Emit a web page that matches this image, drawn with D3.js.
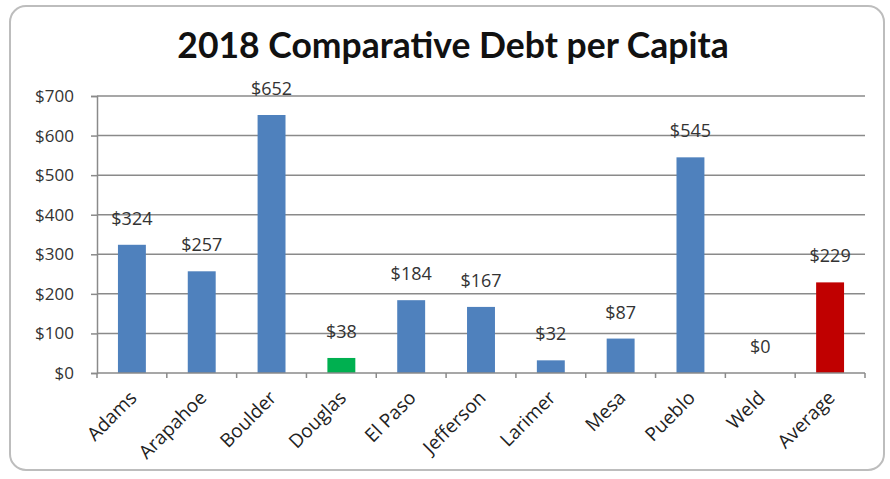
<!DOCTYPE html>
<html>
<head>
<meta charset="utf-8">
<script src="https://cdn.jsdelivr.net/npm/d3@7"></script>
<style>
  html, body { margin: 0; padding: 0; background: #fff; }
  svg { display: block; }
</style>
</head>
<body>
<svg id="chart" width="890" height="479"></svg>
<script>
// County debt per capita, 2018
const counties = ["Adams", "Arapahoe", "Boulder", "Douglas", "El Paso", "Jefferson",
                  "Larimer", "Mesa", "Pueblo", "Weld", "Average"];
const debtPerCapita = [324, 257, 652, 38, 184, 167, 32, 87, 545, 0, 229];
const barColors = ["#4F81BD", "#4F81BD", "#4F81BD", "#00B050", "#4F81BD", "#4F81BD",
                   "#4F81BD", "#4F81BD", "#4F81BD", "#4F81BD", "#C00000"];
const yTicks = [0, 100, 200, 300, 400, 500, 600, 700];
const titleText = "2018 Comparative Debt per Capita";

const svg = d3.select("#chart");
const titleFont = "Lato, 'Open Sans', sans-serif";
const font = "'Open Sans', Lato, sans-serif";

// Rounded chart frame
svg.append("rect")
  .attr("x", 10).attr("y", 6)
  .attr("width", 874).attr("height", 464)
  .attr("rx", 16).attr("ry", 16)
  .attr("fill", "#fff")
  .attr("stroke", "#bdbdbd")
  .attr("stroke-width", 2);

const plot = { left: 97, right: 865, top: 96, bottom: 373 };

const x = d3.scaleBand()
  .domain(counties)
  .range([plot.left, plot.right])
  .paddingInner(0.6)
  .paddingOuter(0.3);

const y = d3.scaleLinear()
  .domain([0, 700])
  .range([plot.bottom, plot.top]);

// Title
svg.append("text")
  .attr("x", 453).attr("y", 58)
  .attr("text-anchor", "middle")
  .attr("font-family", titleFont)
  .attr("font-weight", 700)
  .attr("font-size", 35.5)
  .attr("fill", "#111")
  .text(titleText);

// Horizontal gridlines
svg.append("g")
  .selectAll("line")
  .data(yTicks.filter(d => d > 0))
  .join("line")
  .attr("x1", plot.left).attr("x2", plot.right)
  .attr("y1", d => y(d)).attr("y2", d => y(d))
  .attr("stroke", "#8a8a8a")
  .attr("stroke-width", 1.5);

// Y axis
const yAxis = svg.append("g")
  .attr("transform", `translate(${plot.left},0)`)
  .call(d3.axisLeft(y).tickValues(yTicks).tickFormat(d => "$" + d).tickSize(6).tickPadding(17));
yAxis.select(".domain").attr("stroke", "#8a8a8a").attr("stroke-width", 1.5);
yAxis.selectAll(".tick line").attr("stroke", "#8a8a8a").attr("stroke-width", 1.5);
yAxis.selectAll(".tick text")
  .attr("font-family", font)
  .attr("font-size", 17)
  .attr("fill", "#333");

// Bars
svg.append("g")
  .selectAll("rect")
  .data(counties)
  .join("rect")
  .attr("x", d => x(d))
  .attr("width", x.bandwidth())
  .attr("y", (d, i) => y(debtPerCapita[i]))
  .attr("height", (d, i) => y(0) - y(debtPerCapita[i]))
  .attr("fill", (d, i) => barColors[i]);

// Value labels
svg.append("g")
  .selectAll("text")
  .data(counties)
  .join("text")
  .attr("x", d => x(d) + x.bandwidth() / 2)
  .attr("y", (d, i) => y(debtPerCapita[i]) - 20)
  .attr("text-anchor", "middle")
  .attr("font-family", font)
  .attr("font-size", 18)
  .attr("fill", "#333")
  .text((d, i) => "$" + debtPerCapita[i]);

// X axis with ticks at category boundaries
const xAxisG = svg.append("g");
xAxisG.append("line")
  .attr("x1", plot.left).attr("x2", plot.right)
  .attr("y1", plot.bottom).attr("y2", plot.bottom)
  .attr("stroke", "#8a8a8a").attr("stroke-width", 1.5);
const step = x.step();
const boundaries = d3.range(counties.length + 1).map(i => plot.left + i * step);
xAxisG.selectAll("line.tick")
  .data(boundaries)
  .join("line")
  .attr("class", "tick")
  .attr("x1", d => d).attr("x2", d => d)
  .attr("y1", plot.bottom).attr("y2", plot.bottom + 5)
  .attr("stroke", "#8a8a8a").attr("stroke-width", 1.5);

// Rotated category labels
xAxisG.selectAll("text")
  .data(counties)
  .join("text")
  .attr("transform", d => `translate(${x(d) + x.bandwidth() / 2 + 6},${plot.bottom + 26}) rotate(-45)`)
  .attr("text-anchor", "end")
  .attr("font-family", font)
  .attr("font-size", 19)
  .attr("fill", "#222")
  .text(d => d);
</script>
</body>
</html>
